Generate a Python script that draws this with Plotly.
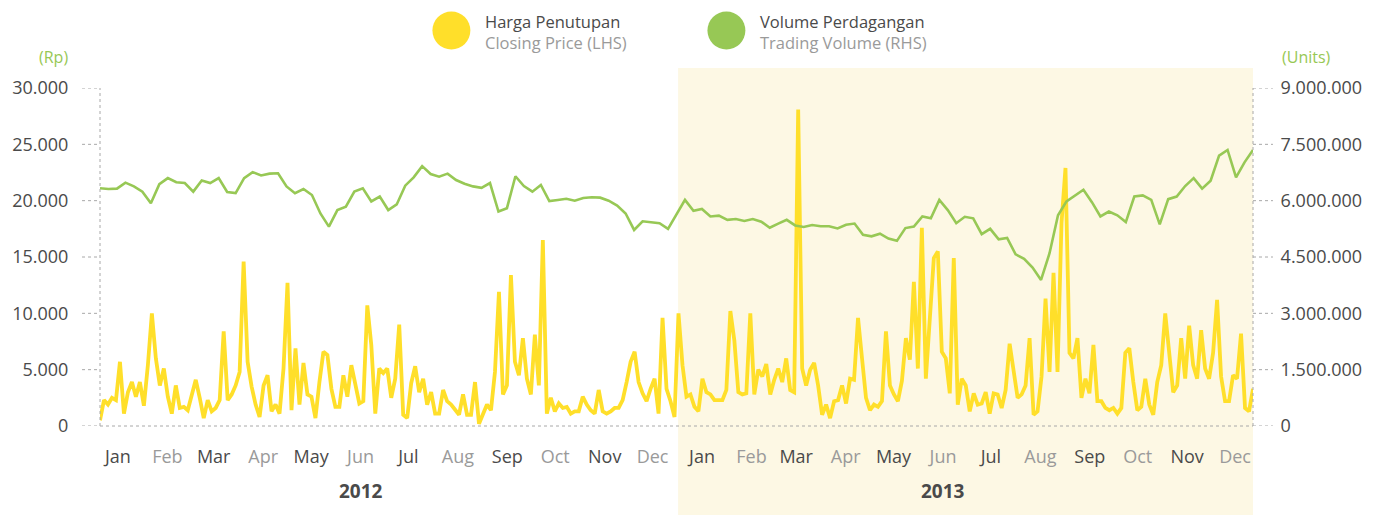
import pandas as pd
import plotly.graph_objects as go

# ---------------- data ----------------
START = "2012-01-04 18:00"
END = "2013-12-27 06:00"

# Harga Penutupan / Closing Price (LHS, Rp) - evenly spaced readings across the period
closing_price = [
    500, 2300, 1900, 2500, 2300, 5700, 1100, 3000, 3900, 2600, 3900, 1800, 5400, 10000, 6000,
    3600, 5100, 2600, 1100, 3600, 1600, 1700, 1400, 2800, 4100, 2500, 700, 2300, 1300, 1600,
    2300, 8400, 2300, 2800, 3600, 4800, 14600, 5700, 3500, 1900, 800, 3600,
    4500, 1300, 1900, 1100, 5100, 12700, 1400, 6900, 1900, 5600, 2800, 2600, 700, 3900, 6600,
    6300, 3300, 1700, 1700, 4500, 2600, 5400, 3500, 2000, 2200, 10700, 7200, 1100, 5100, 4700,
    5100, 2500, 4200, 9000, 1000, 700, 3800, 5300, 3000, 4200, 1900,
    3000, 1100, 1100, 3200, 2200, 1900, 1400, 1000, 2800, 1000, 1000, 3900, 200, 1100, 1900,
    1400, 4800, 11900, 2800, 3600, 13400, 5700, 4500, 7800, 4200, 2800, 8100, 3600, 16500, 1100,
    2500, 1300, 2000, 1600, 1700, 1100, 1300, 1300, 2600, 1900, 1400,
    1100, 3200, 1300, 1100, 1300, 1600, 1600, 2300, 3900, 5700, 6600, 3900, 2900, 2200, 3300,
    4200, 1100, 9600, 3300, 2200, 800, 10000, 5400, 2600, 2800, 1700, 1300, 4200, 3000, 2800,
    2300, 2300, 2300, 3200, 10200, 7600, 3000, 2800, 2900, 10000, 2800,
    5000, 4400, 5500, 2800, 4100, 5100, 3900, 6000, 3200, 3000, 28100, 5100, 3600, 5000, 5600,
    3600, 1000, 1900, 700, 2200, 2300, 3600, 2000, 4200, 4100, 9600, 6000, 2500, 1400, 1900,
    1700, 2200, 8400, 3600, 2800, 2200, 4000, 7800, 5900, 12800, 5100, 17600,
    4200, 10200, 14900, 15500, 6600, 6000, 2900, 14900, 1900, 4200, 3600, 1300, 2900, 1900, 2000,
    3000, 1100, 2900, 2800, 1600, 3200, 7300, 5100, 2500, 2800, 3600, 7800, 1000, 1300, 4400,
    11300, 4800, 13600, 4800, 18000, 22900, 6500, 6000, 7800, 2500, 4200,
    2900, 7200, 2200, 2200, 1600, 1400, 1600, 1100, 1600, 6500, 6900, 3900, 1400, 1700, 4200,
    1900, 1000, 3900, 5400, 10000, 6300, 3000, 3600, 7800, 4200, 8900, 5400, 4200, 8500, 5100,
    4200, 6500, 11200, 4400, 2200, 2200, 4500, 4200, 8200, 1600, 1300, 3300,
]

# Volume Perdagangan / Trading Volume (RHS, units) - evenly spaced readings across the period
trading_volume = [
    6330000, 6310000, 6320000, 6480000, 6380000, 6240000, 5930000, 6440000, 6600000, 6490000,
    6470000, 6240000, 6540000, 6470000, 6600000, 6230000, 6200000, 6600000, 6760000, 6670000,
    6720000, 6730000, 6380000, 6200000, 6310000, 6150000, 5660000, 5310000, 5750000, 5840000,
    6240000, 6330000, 5980000, 6110000, 5750000, 5900000, 6400000, 6620000, 6920000, 6710000,
    6640000, 6720000, 6550000, 6450000, 6380000, 6340000, 6470000, 5710000, 5800000, 6650000,
    6390000, 6240000, 6420000, 5990000, 6020000, 6050000, 6000000, 6070000, 6090000,
    6080000, 6000000, 5870000, 5660000, 5220000, 5450000, 5420000, 5400000, 5250000, 5620000,
    6020000, 5730000, 5780000, 5580000, 5600000, 5490000, 5510000, 5460000, 5510000,
    5440000, 5280000, 5390000, 5490000, 5340000, 5300000, 5350000, 5320000, 5320000, 5260000,
    5360000, 5390000, 5090000, 5050000, 5120000, 4990000, 4930000, 5270000, 5310000, 5580000,
    5530000, 6020000, 5750000, 5400000, 5570000, 5530000, 5110000, 5250000, 4970000, 5010000,
    4570000, 4450000, 4220000, 3890000, 4600000, 5610000, 5980000, 6130000, 6290000,
    5960000, 5580000, 5710000, 5610000, 5430000, 6110000, 6140000, 6020000, 5370000, 6040000,
    6110000, 6390000, 6600000, 6320000, 6530000, 7200000, 7350000, 6620000, 7020000, 7350000,
]

months = ["Jan", "Feb", "Mar", "Apr", "May", "Jun", "Jul", "Aug", "Sep", "Oct", "Nov", "Dec"]
years = [2012, 2013]
left_ticks = [0, 5000, 10000, 15000, 20000, 25000, 30000]
right_ticks = [0, 1500000, 3000000, 4500000, 6000000, 7500000, 9000000]

# ---------------- styling ----------------
FONT = "Open Sans"
YELLOW = "#FFDF2A"
GREEN = "#97C855"
SHADE = "#FDF8E4"
TEXT = "#4A4A4A"
MUTED = "#9A9A9A"
DOT = "#A8A8A8"

W_FIG, H_FIG = 1382, 515
PL, PR, PT, PB = 98, 1253, 88, 426
PW, PH = PR - PL, PB - PT


def px(x):
    return (x - PL) / PW


def py(y):
    return (PB - y) / PH


x_price = pd.date_range(START, END, periods=len(closing_price))
x_vol = pd.date_range(START, END, periods=len(trading_volume))

fig = go.Figure()
fig.add_trace(go.Scatter(
    x=x_vol, y=trading_volume, yaxis="y2", mode="lines",
    line=dict(color=GREEN, width=2.6), name="Volume Perdagangan", showlegend=False,
))
fig.add_trace(go.Scatter(
    x=x_price, y=closing_price, yaxis="y", mode="lines",
    line=dict(color=YELLOW, width=3.8), name="Harga Penutupan", showlegend=False,
))

tickvals, ticktext = [], []
for yr in years:
    for i, m in enumerate(months):
        tickvals.append(f"{yr}-{i + 1:02d}-16")
        col = TEXT if i % 2 == 0 else MUTED
        ticktext.append(f"<span style='color:{col}'>{m}</span>")

shapes = []
# 2013 highlight band
shapes.append(dict(type="rect", xref="x", yref="paper", x0="2013-01-01", x1=END,
                   y0=py(515), y1=py(68), fillcolor=SHADE, line=dict(width=0), layer="below"))
# dotted axis lines
for xs in (0, 1):
    shapes.append(dict(type="line", xref="paper", yref="paper", x0=xs, x1=xs, y0=0, y1=1,
                       line=dict(color=DOT, width=1, dash="dot")))
shapes.append(dict(type="line", xref="paper", yref="paper", x0=0, x1=1, y0=0, y1=0,
                   line=dict(color=DOT, width=1, dash="dot")))
# dotted tick marks
for v in left_ticks:
    shapes.append(dict(type="line", xref="paper", yref="y", x0=px(80), x1=0, y0=v, y1=v,
                       line=dict(color=DOT, width=1, dash="dot")))
for v in right_ticks:
    shapes.append(dict(type="line", xref="paper", yref="y2", x0=1, x1=px(1273), y0=v, y1=v,
                       line=dict(color=DOT, width=1, dash="dot")))
# legend circles
for cx, col in ((450, YELLOW), (725.5, GREEN)):
    shapes.append(dict(type="circle", xref="paper", yref="paper",
                       x0=px(cx - 19), x1=px(cx + 19), y0=py(30.5 + 19), y1=py(30.5 - 19),
                       fillcolor=col, line=dict(width=0)))

annotations = [
    dict(text="(Rp)", xref="paper", yref="paper", x=px(68), y=py(57), xanchor="right",
         yanchor="middle", showarrow=False, font=dict(family=FONT, size=16, color=GREEN)),
    dict(text="(Units)", xref="paper", yref="paper", x=px(1280), y=py(57), xanchor="left",
         yanchor="middle", showarrow=False, font=dict(family=FONT, size=16, color=GREEN)),
    dict(text=f"Harga Penutupan<br><span style='color:{MUTED}'>Closing Price (LHS)</span>",
         xref="paper", yref="paper", x=px(482), y=py(32), xanchor="left", yanchor="middle",
         align="left", showarrow=False, font=dict(family=FONT, size=16.5, color=TEXT)),
    dict(text=f"Volume Perdagangan<br><span style='color:{MUTED}'>Trading Volume (RHS)</span>",
         xref="paper", yref="paper", x=px(757), y=py(32), xanchor="left", yanchor="middle",
         align="left", showarrow=False, font=dict(family=FONT, size=16.5, color=TEXT)),
]
for yr in years:
    annotations.append(dict(text=f"<b>{yr}</b>", xref="x", yref="paper", x=f"{yr}-06-16",
                            y=py(491), xanchor="center", yanchor="middle", showarrow=False,
                            font=dict(family=FONT, size=19, color=TEXT)))

fig.update_layout(
    width=W_FIG, height=H_FIG, autosize=False,
    margin=dict(l=PL, r=W_FIG - PR, t=PT, b=H_FIG - PB, pad=0),
    paper_bgcolor="white", plot_bgcolor="rgba(0,0,0,0)",
    separators=",.",
    font=dict(family=FONT, color=TEXT),
    xaxis=dict(type="date", range=[START, END], tickvals=tickvals, ticktext=ticktext,
               showgrid=False, zeroline=False, showline=False, ticks="outside", ticklen=14,
               tickcolor="rgba(0,0,0,0)", tickfont=dict(family=FONT, size=18, color=TEXT)),
    yaxis=dict(range=[0, 30000], tickvals=left_ticks, tickformat=",d", showgrid=False,
               zeroline=False, showline=False, ticks="outside", ticklen=27,
               tickcolor="rgba(0,0,0,0)", tickfont=dict(family=FONT, size=18, color=TEXT)),
    yaxis2=dict(range=[0, 9000000], tickvals=right_ticks, tickformat=",d", overlaying="y",
                side="right", showgrid=False, zeroline=False, showline=False, ticks="outside",
                ticklen=23, tickcolor="rgba(0,0,0,0)",
                tickfont=dict(family=FONT, size=18, color=TEXT)),
    shapes=shapes, annotations=annotations, showlegend=False,
)

fig.write_html(
    "out.html",
    config={"displayModeBar": False},
    post_script="document.body.style.margin='0';document.body.style.padding='0';",
)
